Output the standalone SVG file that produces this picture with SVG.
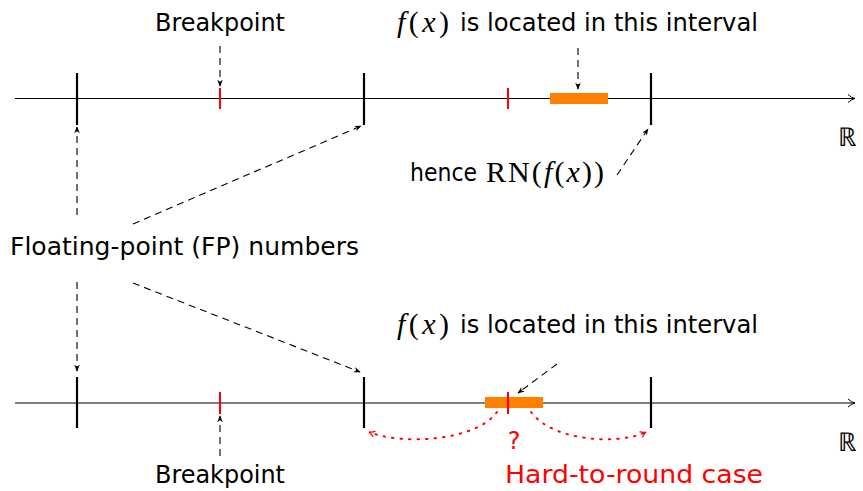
<svg xmlns="http://www.w3.org/2000/svg" width="863" height="491" viewBox="0 0 863 491">
<defs>
<marker id="ah" viewBox="0 0 10 10" refX="9" refY="5" markerWidth="7" markerHeight="7" orient="auto" markerUnits="userSpaceOnUse">
<path d="M0,1 L10,5 L0,9 L3,5 Z" fill="#000"/>
</marker>
<marker id="ahr" viewBox="0 0 10 10" refX="9" refY="5" markerWidth="8" markerHeight="8" orient="auto" markerUnits="userSpaceOnUse">
<path d="M2,1 Q5,4 9,5 Q5,6 2,9" fill="none" stroke="#f00" stroke-width="1.6"/>
</marker>
<marker id="axis" viewBox="0 0 10 10" refX="9" refY="5" markerWidth="10" markerHeight="10" orient="auto" markerUnits="userSpaceOnUse">
<path d="M2,1 Q5,4 9,5 Q5,6 2,9" fill="none" stroke="#000" stroke-width="1"/>
</marker>
</defs>
<style>
.t{font-family:"DejaVu Sans","Liberation Sans",sans-serif;font-size:24px;fill:#000}
.m{font-family:"Liberation Serif",serif;font-size:30px;fill:#000}
.mi{font-family:"Liberation Serif",serif;font-style:italic;font-size:30px}
.red{fill:#f00}
.axis{stroke:#000;stroke-width:1.2;fill:none}
.tick{stroke:#000;stroke-width:2.2}
.bp{stroke:#f00;stroke-width:2}
.bar{fill:#ff8000}
.dash{stroke:#000;stroke-width:1.1;fill:none;stroke-dasharray:7,5;marker-end:url(#ah)}
.dot{stroke:#f00;stroke-width:2;fill:none;stroke-dasharray:1.5,7;stroke-linecap:round;marker-end:url(#ahr)}
</style>
<g id="top-line">
<line class="axis" x1="15" y1="98.5" x2="855" y2="98.5" marker-end="url(#axis)"/>
<line class="tick" x1="77" y1="73" x2="77" y2="125"/>
<line class="tick" x1="364" y1="73" x2="364" y2="125"/>
<line class="tick" x1="651" y1="73" x2="651" y2="125"/>
<line class="bp" x1="220" y1="88" x2="220" y2="109"/>
<line class="bp" x1="508" y1="88" x2="508" y2="109"/>
<rect class="bar" x="550" y="93" width="58" height="11"/>
<text class="m" x="838" y="146" style="font-size:26px">ℝ</text>
</g>
<g id="bottom-line">
<line class="axis" x1="15" y1="403" x2="855" y2="403" marker-end="url(#axis)"/>
<line class="tick" x1="77" y1="377" x2="77" y2="428"/>
<line class="tick" x1="364" y1="377" x2="364" y2="428"/>
<line class="tick" x1="651" y1="377" x2="651" y2="428"/>
<line class="bp" x1="220" y1="392" x2="220" y2="414"/>
<rect class="bar" x="485" y="397" width="58" height="11"/>
<line class="bp" x1="508" y1="392" x2="508" y2="414"/>
<text class="m" x="838" y="451" style="font-size:26px">ℝ</text>
</g>
<g id="label-breakpoint-top"><text class="t" x="155" y="31" textLength="130" lengthAdjust="spacingAndGlyphs">Breakpoint</text></g>
<g id="label-fx-top">
<text class="m" x="397" y="32" textLength="52" lengthAdjust="spacing"><tspan class="mi">f</tspan>(<tspan class="mi">x</tspan>)</text>
<text class="t" x="460" y="31" textLength="298" lengthAdjust="spacingAndGlyphs">is located in this interval</text>
</g>
<g id="label-hence">
<text class="t" x="410" y="181" textLength="67" lengthAdjust="spacingAndGlyphs">hence</text>
<text class="m" x="486" y="182" textLength="118" lengthAdjust="spacing">RN(<tspan class="mi">f</tspan>(<tspan class="mi">x</tspan>))</text>
</g>
<g id="label-fp"><text class="t" x="10" y="255" textLength="349" lengthAdjust="spacingAndGlyphs">Floating-point (FP) numbers</text></g>
<g id="label-fx-bottom">
<text class="m" x="397" y="334" textLength="52" lengthAdjust="spacing"><tspan class="mi">f</tspan>(<tspan class="mi">x</tspan>)</text>
<text class="t" x="460" y="333" textLength="298" lengthAdjust="spacingAndGlyphs">is located in this interval</text>
</g>
<g id="label-breakpoint-bottom"><text class="t" x="155" y="483" textLength="130" lengthAdjust="spacingAndGlyphs">Breakpoint</text></g>
<g id="label-q"><text class="t red" x="514" y="449" text-anchor="middle">?</text></g>
<g id="label-hard"><text class="t red" x="505" y="483" textLength="258" lengthAdjust="spacingAndGlyphs">Hard-to-round case</text></g>
<g id="connectors">
<line class="dash" x1="220" y1="46" x2="220" y2="86"/>
<line class="dash" x1="578" y1="48" x2="578" y2="89"/>
<line class="dash" x1="617" y1="175" x2="648" y2="129"/>
<line class="dash" x1="77" y1="215" x2="77" y2="127"/>
<line class="dash" x1="133" y1="224" x2="361" y2="126"/>
<line class="dash" x1="77" y1="282" x2="77" y2="371"/>
<line class="dash" x1="133" y1="283" x2="360" y2="372"/>
<line class="dash" x1="557" y1="364" x2="518" y2="393"/>
<line class="dash" x1="220" y1="456" x2="220" y2="416"/>
<path class="dot" d="M497,412 C475,442 400,445 369,432"/>
<path class="dot" d="M531,412 C553,442 620,445 646,432"/>
</g>
</svg>
